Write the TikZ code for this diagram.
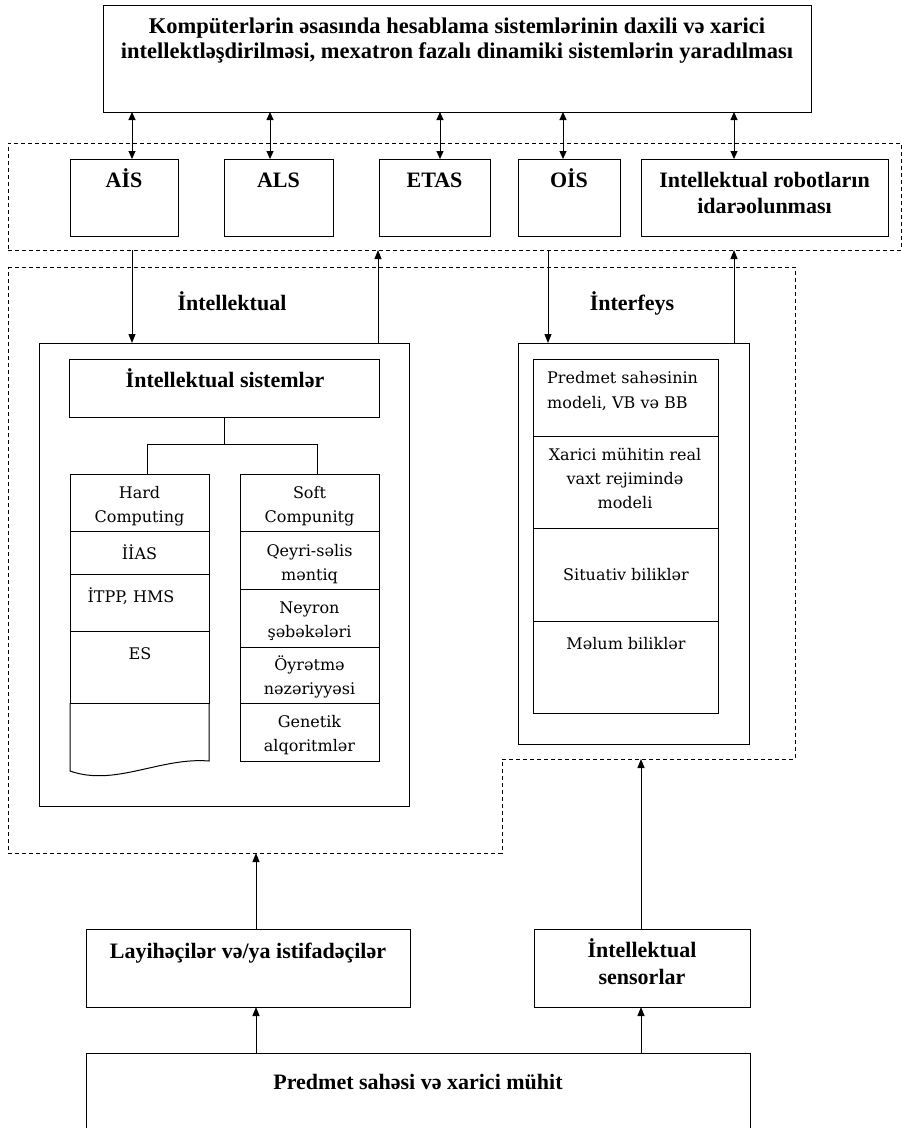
\documentclass[tikz,border=0pt]{standalone}
\usepackage{fontspec}
\setmainfont{Liberation Serif}
\newfontfamily\cellfont{DejaVu Serif}
\usetikzlibrary{arrows.meta,fit}

\begin{document}
\begin{tikzpicture}[x=1pt,y=-1pt,
  frame/.style={draw, line width=1pt, inner sep=0pt, outer sep=0pt},
  dashframe/.style={draw, line width=1pt, dash pattern=on 4pt off 3pt, inner sep=0pt, outer sep=0pt},
  dashline/.style={line width=1pt, dash pattern=on 4pt off 3pt},
  conn/.style={line width=1pt},
  tip/.style={conn, -{Triangle[length=9pt,width=7pt]}},
  bi/.style={conn, {Triangle[length=8pt,width=7pt]}-{Triangle[length=8pt,width=7pt]}},
  head/.style={font=\bfseries\fontsize{22}{26}\selectfont, inner sep=0pt, align=center, anchor=base},
  cell/.style={font=\cellfont\fontsize{16}{24}\selectfont, inner sep=0pt, align=center, anchor=base},
]
\useasboundingbox (0,0) rectangle (906,1128);
\newcommand\mkbox[6][frame]{\node[#1, fit={(#3,#4) (#5,#6)}] (#2) {};}
% note: multi-line labels are placed by the baseline of their last line

% ---------- top goal box ----------
\mkbox{top}{103}{5}{811}{112}
\node[head, font=\bfseries\fontsize{22.5}{25}\selectfont] (ttop) at (457,58)
  {Kompüterlərin əsasında hesablama sistemlərinin daxili və xarici\\
   intellektləşdirilməsi, mexatron fazalı dinamiki sistemlərin yaradılması};

% ---------- row of subsystems ----------
\mkbox[dashframe]{row}{8}{143}{901}{250}
\mkbox{ais}{70}{159}{178}{236}
\mkbox{als}{224}{159}{333}{236}
\mkbox{etas}{379}{159}{490}{236}
\mkbox{ois}{518}{159}{620}{236}
\mkbox{rob}{641}{159}{888}{236}
\node[head] (lais)  at (124,187)   {AİS};
\node[head] (lals)  at (278.5,187) {ALS};
\node[head] (letas) at (434.5,187) {ETAS};
\node[head] (lois)  at (569,187)   {OİS};
\node[head] (lrob)  at (764.5,213) {Intellektual robotların\\idarəolunması};

\coordinate (xa) at (132,0);
\coordinate (xb) at (270,0);
\coordinate (xc) at (440,0);
\coordinate (xd) at (563,0);
\coordinate (xe) at (734,0);
\draw[bi] (top.south -| xa) -- (ais.north -| xa);
\draw[bi] (top.south -| xb) -- (als.north -| xb);
\draw[bi] (top.south -| xc) -- (etas.north -| xc);
\draw[bi] (top.south -| xd) -- (ois.north -| xd);
\draw[bi] (top.south -| xe) -- (rob.north -| xe);

% ---------- large dashed zone ----------
\coordinate (z1) at (8,267);
\coordinate (z2) at (795,267);
\coordinate (z3) at (795,759);
\coordinate (z4) at (502,759);
\coordinate (z5) at (502,853);
\coordinate (z6) at (8,853);
\draw[dashline] (z1) -- (z2) -- (z3) -- (z4) -- (z5) -- (z6) -- cycle;

\node[head] (lint) at (232,310) {İntellektual};
\node[head] (lifc) at (632,310) {İnterfeys};

% ---------- intellectual systems block ----------
\mkbox{ibox}{39}{343}{409}{806}
\mkbox{isys}{69}{359}{379}{417}
\node[head] (lisys) at (225,387) {İntellektual sistemlər};

\coordinate (xf) at (378,0);
\draw[tip] (row.south -| xa) -- (ibox.north -| xa);
\draw[tip] (ibox.north -| xf) -- (row.south -| xf);

\coordinate (tj) at (224,444);
\coordinate (tl) at (147,444);
\coordinate (tr) at (317,444);

\mkbox{hc1}{70}{474}{209}{531}
\mkbox{hc2}{70}{531}{209}{574}
\mkbox{hc3}{70}{574}{209}{631}
\mkbox{hc4}{70}{631}{209}{703}
\draw[conn] (hc4.south west) -- (70,771) .. controls (115,787) and (160,757) .. (209,761) -- (hc4.south east);

\mkbox{sc1}{240}{474}{379}{531}
\mkbox{sc2}{240}{531}{379}{589}
\mkbox{sc3}{240}{589}{379}{647}
\mkbox{sc4}{240}{647}{379}{703}
\mkbox{sc5}{240}{703}{379}{761}

\draw[conn] (isys.south -| tj) -- (tj);
\draw[conn] (tl |- hc1.north) -- (tl) -- (tr) -- (tr |- sc1.north);

\node[cell] (c1) at (139.5,522) {Hard\\Computing};
\node[cell] (c2) at (139.5,559) {İİAS};
\node[cell] (c3) at (131,602)   {İTPP, HMS};
\node[cell] (c4) at (140,659)   {ES};
\node[cell] (s1) at (309.5,522) {Soft\\Compunitg};
\node[cell] (s2) at (309.5,580) {Qeyri-səlis\\məntiq};
\node[cell] (s3) at (309.5,637) {Neyron\\şəbəkələri};
\node[cell] (s4) at (309.5,694) {Öyrətmə\\nəzəriyyəsi};
\node[cell] (s5) at (309.5,751) {Genetik\\alqoritmlər};

% ---------- interface block ----------
\mkbox{fbox}{518}{343}{749}{744}
\coordinate (xg) at (548,0);
\draw[tip] (row.south -| xg) -- (fbox.north -| xg);
\draw[tip] (fbox.north -| xe) -- (row.south -| xe);

\mkbox{ic1}{533}{359}{718}{436}
\mkbox{ic2}{533}{436}{718}{528}
\mkbox{ic3}{533}{528}{718}{621}
\mkbox{ic4}{533}{621}{718}{713}
\node[cell, align=left, anchor=base west, font=\cellfont\fontsize{16}{25}\selectfont] (f1) at (547,408)
  {Predmet sahəsinin\\modeli, VB və BB};
\node[cell] (f2) at (625,508) {Xarici mühitin real\\vaxt rejimində\\modeli};
\node[cell] (f3) at (626,580) {Situativ biliklər};
\node[cell] (f4) at (626,649) {Məlum biliklər};

% ---------- sources at the bottom ----------
\mkbox{lay}{86}{929}{410}{1007}
\mkbox{sens}{534}{929}{750}{1007}
\mkbox{env}{86}{1053}{750}{1140}
\node[head] (llay)  at (248,958)  {Layihəçilər və/ya istifadəçilər};
\node[head, font=\bfseries\fontsize{22}{27}\selectfont] (lsens) at (642,984) {İntellektual\\sensorlar};
\node[head] (lenv)  at (418,1089) {Predmet sahəsi və xarici mühit};

\coordinate (xl) at (256,0);
\coordinate (xr) at (641,0);
\draw[tip] (lay.north -| xl) -- (z6 -| xl);
\draw[tip] (sens.north -| xr) -- (z4 -| xr);
\draw[tip] (env.north -| xl) -- (lay.south -| xl);
\draw[tip] (env.north -| xr) -- (sens.south -| xr);
\end{tikzpicture}
\end{document}
